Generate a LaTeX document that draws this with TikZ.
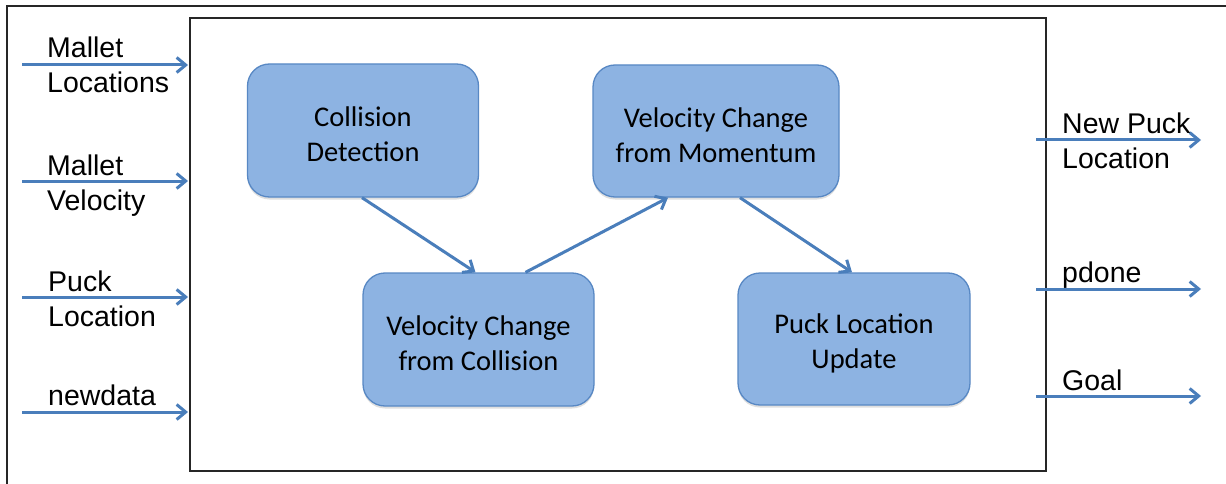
\documentclass[tikz,border=0pt]{standalone}
\usepackage{fontspec}
\setmainfont{Liberation Sans}
\newfontfamily\boxfont{Carlito}
\usetikzlibrary{arrows.meta,shadows,calc}
\definecolor{boxfill}{RGB}{141,179,226}
\definecolor{boxline}{RGB}{88,136,196}
\definecolor{flow}{RGB}{74,126,187}
% strut that lowers the two-line caption a little inside its box
\newcommand{\capstrut}{\rule{0pt}{28pt}}
\tikzset{
  stage/.style={draw=boxline, line width=1.3pt, fill=boxfill, rounded corners=22pt,
    align=center, font=\boxfont\fontsize{28.5}{35}\selectfont, inner sep=0pt,
    drop shadow={shadow xshift=0pt, shadow yshift=-2.5pt, opacity=0.25}},
  flowarrow/.style={draw=flow, line width=3pt,
    -{Straight Barb[length=9pt,width=15pt,line width=3pt]}},
  port/.style={font=\fontsize{28.5}{35}\selectfont, align=left, inner sep=0pt, anchor=base west},
  frame/.style={draw=black!85, line width=1.2pt}
}
\begin{document}
\begin{tikzpicture}[x=1pt,y=-1pt]
\useasboundingbox (0,0) rectangle (1226,484);
% outer border (top and left edges)
\draw[frame] (7,484) -- (7,6) -- (1226,6);
% system block
\draw[frame, fill=white] (190,18) rectangle (1046,471);

% processing stages
\node[stage, minimum width=231pt, minimum height=133pt] (cd)  at (363,130.5) {\capstrut Collision\\Detection};
\node[stage, minimum width=246pt, minimum height=132pt] (vcm) at (716,131)   {\capstrut Velocity Change\\from Momentum};
\node[stage, minimum width=231pt, minimum height=133pt] (vcc) at (478.5,339.5) {\capstrut Velocity Change\\from Collision};
\node[stage, minimum width=232pt, minimum height=132pt] (plu) at (854,339)   {\capstrut Puck Location\\Update};

\draw[flowarrow] ($(cd.south)+(-1,0)$) -- ($(vcc.north)+(-3,0)$);
\draw[flowarrow] ($(vcc.north)+(47,0)$) -- ($(vcm.south)+(-48,0)$);
\draw[flowarrow] ($(vcm.south)+(24,0)$) -- ($(plu.north)+(-2,0)$);

% inputs
\coordinate (in1s) at (22,65);   \coordinate (in1e) at (188,65);
\coordinate (in2s) at (22,181);  \coordinate (in2e) at (188,181);
\coordinate (in3s) at (22,297);  \coordinate (in3e) at (188,297);
\coordinate (in4s) at (22,412);  \coordinate (in4e) at (188,412);
\draw[flowarrow] (in1s) -- (in1e);
\draw[flowarrow] (in2s) -- (in2e);
\draw[flowarrow] (in3s) -- (in3e);
\draw[flowarrow] (in4s) -- (in4e);
% multi-line labels are placed by the baseline of their last line
\node[port] (l1) at (47,93)  {Mallet\\Locations};
\node[port] (l2) at (47,210) {Mallet\\Velocity};
\node[port] (l3) at (48,326) {Puck\\Location};
\node[port] (l4) at (48,405) {newdata};

% outputs
\coordinate (out1s) at (1036,140); \coordinate (out1e) at (1201,140);
\coordinate (out2s) at (1036,289); \coordinate (out2e) at (1201,289);
\coordinate (out3s) at (1036,396); \coordinate (out3e) at (1201,396);
\draw[flowarrow] (out1s) -- (out1e);
\draw[flowarrow] (out2s) -- (out2e);
\draw[flowarrow] (out3s) -- (out3e);
\node[port] (r1) at (1062,168) {New Puck\\Location};
\node[port] (r2) at (1062,282) {pdone};
\node[port] (r3) at (1062,390) {Goal};
\end{tikzpicture}
\end{document}
